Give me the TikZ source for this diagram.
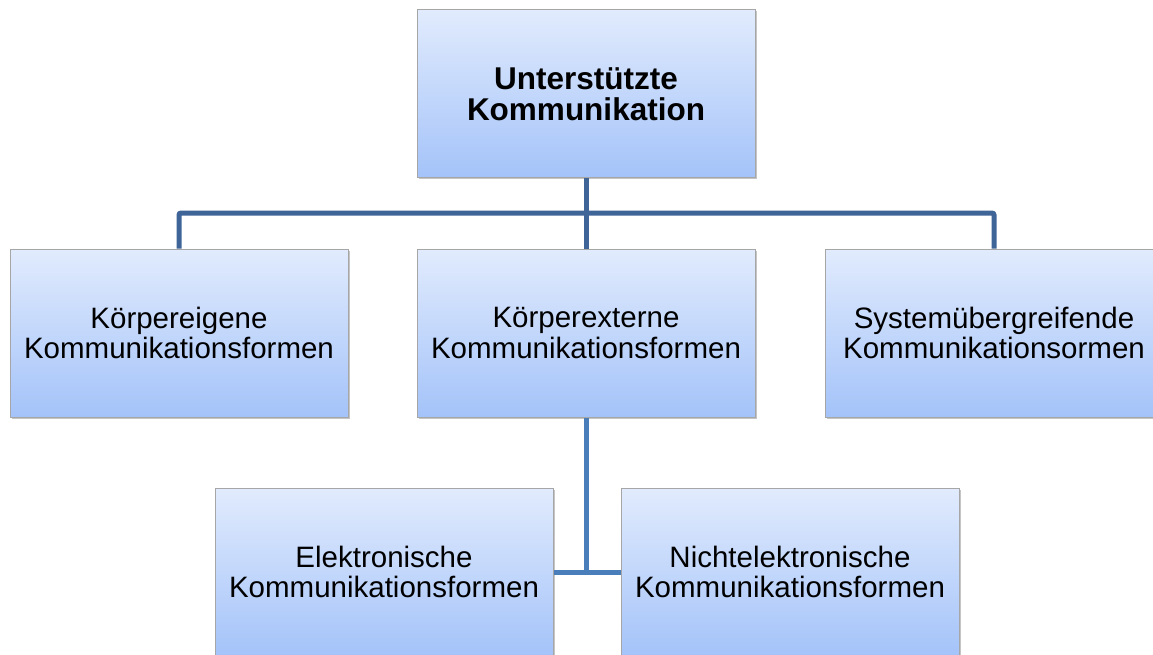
\documentclass[tikz,border=0pt]{standalone}
\usepackage{fontspec}
\setmainfont{Liberation Sans}
\usetikzlibrary{shadows}

\tikzset{
  kbox/.style={draw=gray!70, line width=1pt, minimum width=338pt, minimum height=168pt,
    top color=kTop, bottom color=kBot, align=center, inner sep=0pt,
    drop shadow={shadow xshift=1.5pt, shadow yshift=-1.5pt, fill=black!45, opacity=0.5},
    font=\fontsize{29.5}{30.5}\selectfont},
  kline/.style={draw=kLine, line width=5pt, rounded corners=2pt},
  kline2/.style={draw=kLineB, line width=5pt}
}
\definecolor{kTop}{HTML}{E1EBFD}
\definecolor{kBot}{HTML}{A4C3F9}
\definecolor{kLine}{HTML}{3F6497}
\definecolor{kLineB}{HTML}{4A7EBB}

\begin{document}
\begin{tikzpicture}[x=1pt, y=-1pt]
  \useasboundingbox (0,0) rectangle (1153,655);
  % Boxen
  \node[kbox, font=\fontsize{31.5}{31.5}\selectfont\bfseries] (uk) at (586,94) {Unterstützte\\Kommunikation};
  \node[kbox] (eigen) at (179,333) {Körpereigene\\Kommunikationsformen};
  \node[kbox] (extern) at (586,333) {Körperexterne\\Kommunikationsformen};
  \node[kbox] (system) at (994,333) {Systemübergreifende\\Kommunikationsormen};
  \node[kbox] (elek) at (384,572) {Elektronische\\Kommunikationsformen};
  \node[kbox] (nicht) at (790,572) {Nichtelektronische\\Kommunikationsformen};
  % Verbindungen
  \coordinate (bus) at (586,213);
  \draw[kline] (uk.south) -- (bus);
  \draw[kline] (eigen.north) |- (bus) -| (system.north);
  \draw[kline] (bus) -- (extern.north);
  \draw[kline2] (extern.south) -- (extern.south |- elek.east);
  \draw[kline2] (elek.east) -- (nicht.west);
\end{tikzpicture}
\end{document}
